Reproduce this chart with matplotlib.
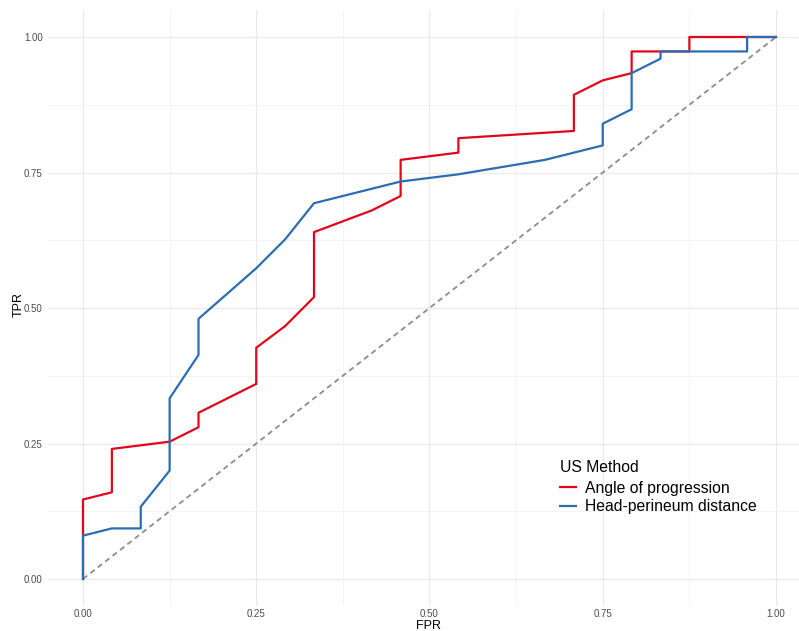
import matplotlib
matplotlib.use("Agg")
import matplotlib.pyplot as plt
import numpy as np

# ROC vertices: FPR in 24ths, TPR in 75ths
aop_fpr = np.array([0, 0, 1, 1, 3, 4, 4, 6, 6, 7, 8, 8, 10, 11, 11, 13, 13,
                    17, 17, 18, 19, 19, 21, 21, 24]) / 24
aop_tpr = np.array([0, 11, 12, 18, 19, 21, 23, 27, 32, 35, 39, 48, 51, 53, 58,
                    59, 61, 62, 67, 69, 70, 73, 73, 75, 75]) / 75

hpd_fpr = np.array([0, 0, 1, 2, 2, 3, 3, 4, 4, 6, 7, 8, 11, 13, 16, 18, 18,
                    19, 19, 20, 20, 23, 23, 24]) / 24
hpd_tpr = np.array([0, 6, 7, 7, 10, 15, 25, 31, 36, 43, 47, 52, 55, 56, 58, 60,
                    63, 65, 70, 72, 73, 73, 75, 75]) / 75

series_labels = ["Angle of progression", "Head-perineum distance"]
series_colors = ["#E2061C", "#2C6DB2"]
ticks = [0.0, 0.25, 0.5, 0.75, 1.0]
tick_labels = ["0.00", "0.25", "0.50", "0.75", "1.00"]

plt.rcParams["font.family"] = ["Liberation Sans", "DejaVu Sans"]

W, H = 799, 631
fig = plt.figure(figsize=(W / 100, H / 100), dpi=100)
# panel in pixels: left 48, top 10, bottom 606; right runs past the image edge
left, top, bottom = 48.35, 9.9, 606.1
ax = fig.add_axes([left / W, 1 - bottom / H, (W - left) / W, (bottom - top) / H])
ax.set_xlim(-0.05, -0.05 + (W - left) / 693)
ax.set_ylim(-0.05, 1.05)

for s in ax.spines.values():
    s.set_visible(False)

ax.set_xticks(ticks)
ax.set_xticklabels(tick_labels)
ax.set_yticks(ticks)
ax.set_yticklabels(tick_labels)
ax.set_xticks(np.arange(0.125, 1.0, 0.25), minor=True)
ax.set_yticks(np.arange(0.125, 1.0, 0.25), minor=True)
ax.grid(which="major", color="#EBEBEB", lw=1.0)
ax.grid(which="minor", color="#F3F3F3", lw=0.6)
ax.set_axisbelow(True)
ax.tick_params(which="both", length=0)
ax.tick_params(axis="y", labelsize=7, labelcolor="#4D4D4D", pad=4)
ax.tick_params(axis="x", labelsize=7, labelcolor="#4D4D4D", pad=2)

ax.plot([0, 1], [0, 1], ls=(0, (3, 2.2)), color="#8C8C8C", lw=1.3)
ax.plot(aop_fpr, aop_tpr, color=series_colors[0], lw=1.6, label=series_labels[0])
ax.plot(hpd_fpr, hpd_tpr, color=series_colors[1], lw=1.6, label=series_labels[1])

fig.text(429 / W, 1 - 626 / H, "FPR", ha="center", va="center", fontsize=9)
fig.text(19 / W, 1 - 304 / H, "TPR", ha="center", va="center", fontsize=9,
         rotation=90)

leg = ax.legend(title="US Method", loc="upper left",
                bbox_to_anchor=(560 / W, 1 - 460 / H), bbox_transform=fig.transFigure,
                frameon=False, fontsize=11.3, title_fontsize=11.3,
                handlelength=1.0, handletextpad=0.6, labelspacing=0.25,
                borderaxespad=0, borderpad=0)
leg._legend_box.align = "left"
leg._legend_box.sep = 4

fig.savefig("out.png", dpi=100)
